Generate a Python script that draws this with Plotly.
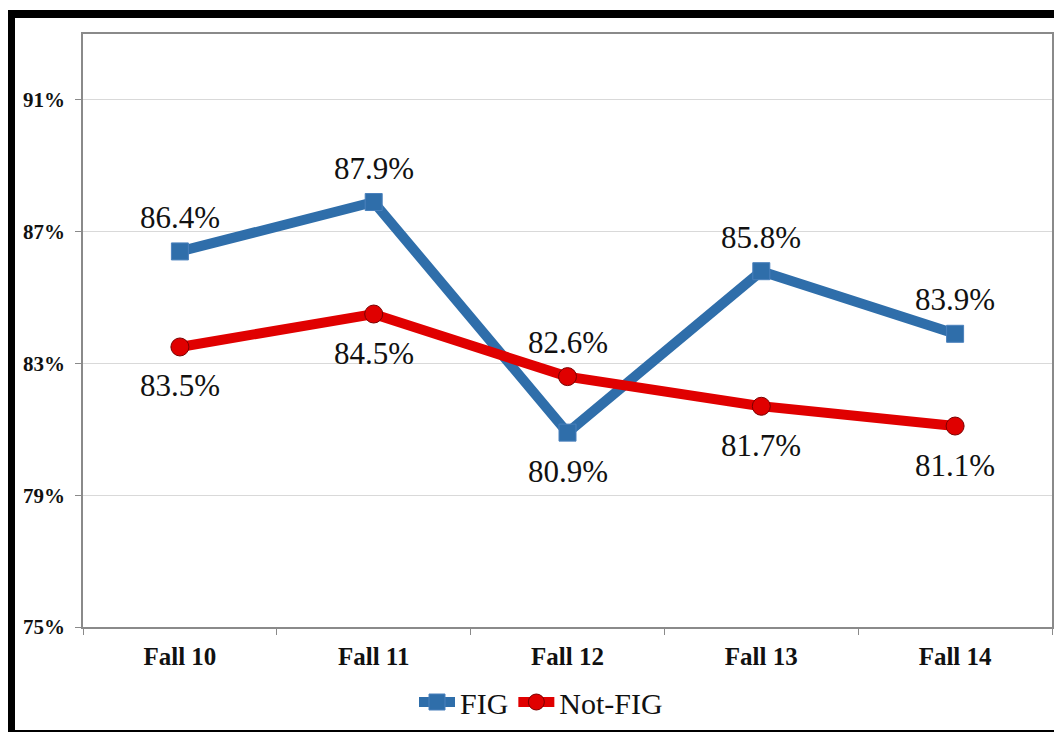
import plotly.graph_objects as go

categories = ["Fall 10", "Fall 11", "Fall 12", "Fall 13", "Fall 14"]
fig_values = [86.4, 87.9, 80.9, 85.8, 83.9]
notfig_values = [83.5, 84.5, 82.6, 81.7, 81.1]
# label placement: +1 above the point, -1 below
fig_label_side = [1, 1, -1, 1, 1]
notfig_label_side = [-1, -1, 1, -1, -1]
y_ticks = [75, 79, 83, 87, 91]
y_tick_labels = [f"{v}%" for v in y_ticks]

BLUE = "#2F6EAA"
RED = "#E00000"
FONT = "Liberation Serif"

# the page body adds an 8px offset; compensate so the figure fills the window
OFF = 8
W, H = 1062 - OFF, 732 - OFF
ML, MR, MT, MB = 83 - OFF, 10, 34 - OFF, 105
PW, PH = W - ML - MR, H - MT - MB

def px_x(p):
    return (p - OFF - ML) / PW

def px_y(p):
    return (H - MB - (p - OFF)) / PH

fig = go.Figure()
fig.add_trace(go.Scatter(
    x=categories, y=fig_values, name="FIG", mode="lines+markers",
    line=dict(color=BLUE, width=10),
    marker=dict(symbol="square", size=17, color=BLUE, line=dict(color="#4A80BC", width=1)),
))
fig.add_trace(go.Scatter(
    x=categories, y=notfig_values, name="Not-FIG", mode="lines+markers",
    line=dict(color=RED, width=10),
    marker=dict(symbol="circle", size=18, color=RED, line=dict(color="#7A0000", width=1)),
))

annotations = []
for vals, sides in ((fig_values, fig_label_side), (notfig_values, notfig_label_side)):
    for c, v, s in zip(categories, vals, sides):
        annotations.append(dict(
            x=c, y=v, xref="x", yref="y", text=f"{v:.1f}%", showarrow=False,
            yshift=34 if s > 0 else -39,
            font=dict(family=FONT, size=31, color="#111111"),
        ))

shapes = [dict(
    type="rect", xref="paper", yref="paper",
    x0=px_x(11), x1=px_x(1110), y0=px_y(734), y1=px_y(14),
    line=dict(color="black", width=8), fillcolor="rgba(0,0,0,0)", layer="above",
)]

fig.update_layout(
    width=W, height=H,
    margin=dict(l=ML, r=MR, t=MT, b=MB, pad=0, autoexpand=False),
    paper_bgcolor="white", plot_bgcolor="white",
    font=dict(family=FONT, color="#111111"),
    showlegend=True,
    legend=dict(
        orientation="h", x=px_x(541), xanchor="center", y=px_y(702), yanchor="middle",
        font=dict(family=FONT, size=30, color="#111111"),
        itemwidth=36, tracegroupgap=0, bgcolor="rgba(0,0,0,0)",
    ),
    annotations=annotations,
    shapes=shapes,
    xaxis=dict(
        type="category", categoryorder="array", categoryarray=categories,
        range=[-0.5, len(categories) - 0.5],
        showgrid=False, showline=True, linecolor="#8a8a8a", linewidth=1.5, mirror=True,
        ticks="outside", tickson="boundaries", ticklen=6, tickcolor="#8a8a8a",
        tickfont=dict(family=FONT, size=25, color="#111111", weight="bold"),
        ticklabelstandoff=6,
    ),
    yaxis=dict(
        range=[75, 93], tickvals=y_ticks, ticktext=y_tick_labels,
        showgrid=True, gridcolor="#d9d9d9", gridwidth=1,
        showline=True, linecolor="#8a8a8a", linewidth=1.5, mirror=True,
        ticks="outside", ticklen=6, tickcolor="#8a8a8a",
        tickfont=dict(family=FONT, size=21, color="#111111", weight="bold"),
        ticklabelstandoff=6,
        zeroline=False,
    ),
)

fig.write_html("out.html")
